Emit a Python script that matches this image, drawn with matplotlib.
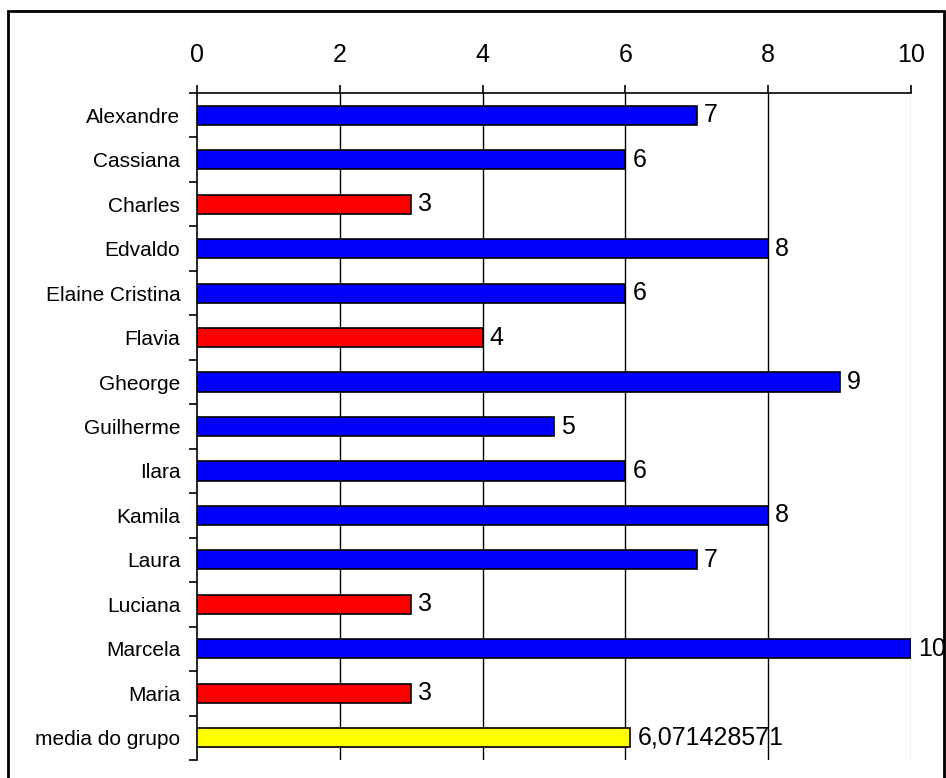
import matplotlib.pyplot as plt
from matplotlib.patches import Rectangle

# Notas por aluno
nomes = ["Alexandre", "Cassiana", "Charles", "Edvaldo", "Elaine Cristina",
         "Flavia", "Gheorge", "Guilherme", "Ilara", "Kamila", "Laura",
         "Luciana", "Marcela", "Maria", "media do grupo"]
notas = [7, 6, 3, 8, 6, 4, 9, 5, 6, 8, 7, 3, 10, 3, 6.071428571]
rotulos = ["7", "6", "3", "8", "6", "4", "9", "5", "6", "8", "7", "3", "10", "3",
           "6,071428571"]
cores = ["#0000ff", "#0000ff", "#ff0000", "#0000ff", "#0000ff", "#ff0000",
         "#0000ff", "#0000ff", "#0000ff", "#0000ff", "#0000ff", "#ff0000",
         "#0000ff", "#ff0000", "#ffff00"]

plt.rcParams['font.family'] = ['Liberation Sans', 'DejaVu Sans']

W, H = 946, 778
fig = plt.figure(figsize=(W / 100, H / 100), dpi=100)

# moldura externa (a base fica fora da imagem)
fig.patches.append(Rectangle((8 / W, -0.05), 936 / W, 1.05 - 11 / H,
                             transform=fig.transFigure, fill=False,
                             edgecolor='black', linewidth=2))

ax = fig.add_axes([197 / W, 1 - 760 / H, (911 - 197) / W, (760 - 93) / H])

n = len(nomes)
y = list(range(n))
ax.barh(y, notas, height=0.43, color=cores, edgecolor='black', linewidth=1.2, zorder=3)

for yi, v, r in zip(y, notas, rotulos):
    ax.text(v + 0.1, yi, r, va='center', ha='left', fontsize=18, zorder=4)

ax.set_xlim(0, 10)
ax.set_ylim(n - 0.5, -0.5)

# grade vertical
for xv in [2, 4, 6, 8]:
    ax.axvline(xv, color='black', linewidth=1, zorder=1)
ax.axvline(10, color='#b0b0b0', linewidth=1, zorder=1)

ax.xaxis.tick_top()
ax.set_xticks([0, 2, 4, 6, 8, 10])
ax.tick_params(axis='x', direction='out', length=6, width=1.2, labelsize=18, pad=13)

ax.set_yticks([i - 0.5 for i in range(n + 1)])
ax.set_yticklabels([])
ax.set_yticks(y, minor=True)
ax.set_yticklabels(nomes, minor=True, fontsize=15)
ax.tick_params(axis='y', which='major', direction='out', length=6, width=1.2)
ax.tick_params(axis='y', which='minor', length=0, pad=12)

for s in ['right', 'bottom']:
    ax.spines[s].set_visible(False)
ax.spines['top'].set_linewidth(1.2)
ax.spines['left'].set_linewidth(1.2)

fig.savefig("out.png", dpi=100)
